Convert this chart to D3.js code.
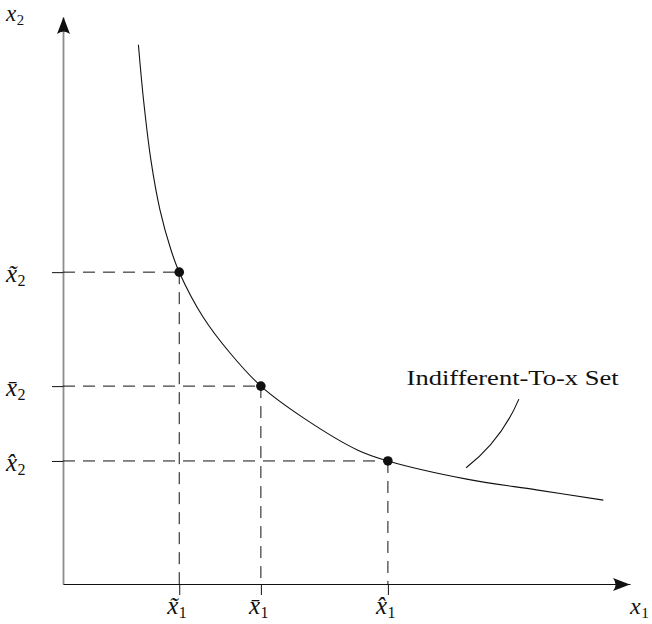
<!DOCTYPE html>
<html>
<head>
<meta charset="utf-8">
<script src="https://cdn.jsdelivr.net/npm/d3@7"></script>
<style>
  html, body { margin: 0; padding: 0; background: #fff; }
  svg { display: block; }
</style>
</head>
<body>
<script>
// Indifference curve through three bundles
const curveX1 = [1.33, 1.42, 1.55, 1.71, 1.905, 2.05, 2.47, 2.95, 3.49, 4.24, 5.2, 5.73, 7.12, 8.35, 9.53];
const curveX2 = [9.51, 8.54, 7.48, 6.6, 5.89, 5.5, 4.71, 4.07, 3.49, 2.93, 2.36, 2.17, 1.85, 1.66, 1.48];

// Marked bundles (tilde, bar, hat as combining marks)
const bundleX1 = [2.05, 3.49, 5.73];
const bundleX2 = [5.5, 3.49, 2.17];
const bundleAccents = ["\u0303", "\u0304", "\u0302"];

// Leader from the set label down to the curve (start, control, end)
const leaderX1 = [7.11, 7.73, 8.04];
const leaderX2 = [2.05, 2.53, 3.26];

const setLabel = "Indifferent-To-x Set";
const setLabelPos = [6.06, 3.51];

const W = 652, H = 624;
const serif = "'Liberation Serif', 'DejaVu Serif', serif";

const svg = d3.select("body").append("svg")
  .attr("width", W).attr("height", H)
  .attr("viewBox", `0 0 ${W} ${H}`);

const x = d3.scaleLinear().domain([0, 10]).range([63, 630]);
const y = d3.scaleLinear().domain([0, 10]).range([584, 17]);

// Vertical axis (grey) with left ticks
const gy = svg.append("g")
  .attr("transform", `translate(${x(0)},0)`)
  .call(d3.axisLeft(y).tickValues(bundleX2).tickSize(11).tickSizeOuter(0).tickFormat(() => ""));
gy.select(".domain").attr("stroke", "#8c8c8c").attr("stroke-width", 1.8);
gy.selectAll(".tick line").attr("stroke", "#111").attr("stroke-width", 1);

// Horizontal axis with downward ticks
const gx = svg.append("g")
  .attr("transform", `translate(0,${y(0)})`)
  .call(d3.axisBottom(x).tickValues(bundleX1).tickSize(11).tickSizeOuter(0).tickFormat(() => ""));
gx.select(".domain").attr("stroke", "#111").attr("stroke-width", 1.2);
gx.selectAll(".tick line").attr("stroke", "#111").attr("stroke-width", 1);

// Arrowheads at the axis ends
function arrowUp(tx, ty) {
  const p = d3.path();
  p.moveTo(tx, ty);
  p.lineTo(tx + 6.5, ty + 17);
  p.quadraticCurveTo(tx, ty + 12, tx - 6.5, ty + 17);
  p.closePath();
  return p.toString();
}
function arrowRight(tx, ty) {
  const p = d3.path();
  p.moveTo(tx, ty);
  p.lineTo(tx - 17, ty + 6.5);
  p.quadraticCurveTo(tx - 12, ty, tx - 17, ty - 6.5);
  p.closePath();
  return p.toString();
}
svg.append("path").attr("d", arrowUp(x(0) + 0.5, y(10))).attr("fill", "#111");
svg.append("path").attr("d", arrowRight(x(10), y(0) + 0.5)).attr("fill", "#111");

// Dashed guides from each bundle to both axes
const guides = svg.append("g").attr("stroke", "#111").attr("stroke-width", 1)
  .attr("stroke-dasharray", "12,8").attr("fill", "none");
bundleX1.forEach((v, i) => {
  guides.append("line")
    .attr("x1", x(0)).attr("y1", y(bundleX2[i]))
    .attr("x2", x(v)).attr("y2", y(bundleX2[i]));
  guides.append("line")
    .attr("x1", x(v)).attr("y1", y(bundleX2[i]))
    .attr("x2", x(v)).attr("y2", y(0));
});

// The curve
const line = d3.line()
  .x(d => x(d[0])).y(d => y(d[1]))
  .curve(d3.curveCatmullRom.alpha(0.5));
svg.append("path")
  .datum(curveX1.map((v, i) => [v, curveX2[i]]))
  .attr("d", line)
  .attr("fill", "none").attr("stroke", "#111").attr("stroke-width", 1.1);

// Bundle dots
svg.append("g").selectAll("circle")
  .data(bundleX1.map((v, i) => [v, bundleX2[i]]))
  .join("circle")
  .attr("cx", d => x(d[0])).attr("cy", d => y(d[1]))
  .attr("r", 4.8).attr("fill", "#111");

// Leader line
const lp = d3.path();
lp.moveTo(x(leaderX1[0]), y(leaderX2[0]));
lp.quadraticCurveTo(x(leaderX1[1]), y(leaderX2[1]), x(leaderX1[2]), y(leaderX2[2]));
svg.append("path").attr("d", lp.toString())
  .attr("fill", "none").attr("stroke", "#111").attr("stroke-width", 1.1);

// Set label
svg.append("text")
  .attr("x", x(setLabelPos[0])).attr("y", y(setLabelPos[1]))
  .attr("font-family", serif).attr("font-size", 21)
  .attr("textLength", 212).attr("lengthAdjust", "spacingAndGlyphs")
  .attr("fill", "#111")
  .text(setLabel);

// Math label: italic x (with optional combining accent) and upright subscript
function mathLabel(px, py, accent, sub, size) {
  const s = size || 25;
  const t = svg.append("text")
    .attr("x", px).attr("y", py)
    .attr("font-family", serif).attr("fill", "#111");
  t.append("tspan").attr("font-style", "italic").attr("font-size", s)
    .text("x" + (accent || ""));
  t.append("tspan").attr("font-size", s * 0.64)
    .attr("dx", 0.5).attr("dy", 4)
    .text(sub);
  return t;
}

// Axis titles
mathLabel(6, 21, null, "2", 23);
mathLabel(630, 614, null, "1", 24);

// Tick labels
bundleX2.forEach((v, i) => mathLabel(6, y(v) + 10, bundleAccents[i], "2"));
bundleX1.forEach((v, i) => mathLabel(x(v) - 12, 614, bundleAccents[i], "1"));
</script>
</body>
</html>
